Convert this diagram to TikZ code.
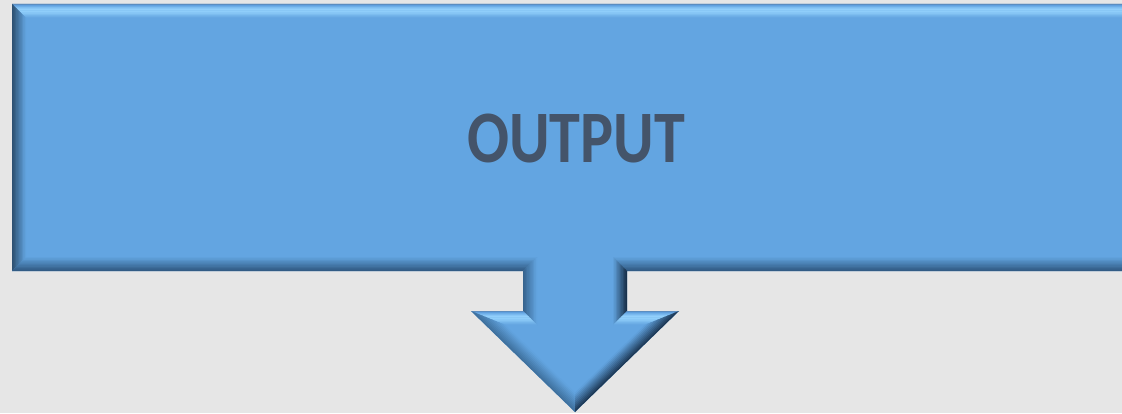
\documentclass[tikz,border=0pt]{standalone}
\usepackage{fontspec}
\setmainfont{Carlito}
\usetikzlibrary{calc}
\definecolor{bgc}{HTML}{E6E6E6}
\definecolor{fillc}{HTML}{63A5E1}
\definecolor{topline}{HTML}{5A7A9C}
\definecolor{topdark}{HTML}{5E9EE0}
\definecolor{toplight}{HTML}{95D2FD}
\definecolor{leftdark}{HTML}{2B4D6C}
\definecolor{bottomdark}{HTML}{2F5880}
\definecolor{stemleft}{HTML}{35618A}
\definecolor{stemright}{HTML}{152C44}
\definecolor{diagleft}{HTML}{3D6E9A}
\definecolor{diagright}{HTML}{1A3450}
\definecolor{txtc}{HTML}{44546A}
% bevel band: #1 P, #2 Q, #3 P', #4 Q', #5 t0, #6 t1, #7 colour A, #8 colour B
\newcommand\bvlband[8]{%
  \foreach \k in {0,...,9}{%
    \pgfmathsetmacro\ta{#5+(#6-#5)*\k/10}%
    \pgfmathsetmacro\tb{min(1,#5+(#6-#5)*(\k+1.3)/10)}%
    \pgfmathtruncatemacro\pc{100-100*(\k+0.5)/10}%
    \fill[#7!\pc!#8] ($(#1)!\ta!(#3)$) -- ($(#2)!\ta!(#4)$) -- ($(#2)!\tb!(#4)$) -- ($(#1)!\tb!(#3)$) -- cycle;
  }}
\newcommand\bvldark[5]{\bvlband{#1}{#2}{#3}{#4}{0}{1}{#5}{fillc}}
\newcommand\bvllight[4]{%
  \bvlband{#1}{#2}{#3}{#4}{0}{0.1}{topline}{topdark}%
  \bvlband{#1}{#2}{#3}{#4}{0.1}{0.35}{topdark}{toplight}%
  \bvlband{#1}{#2}{#3}{#4}{0.35}{0.55}{toplight}{toplight}%
  \bvlband{#1}{#2}{#3}{#4}{0.55}{1}{toplight}{fillc}}
\tikzset{labeltext/.style={text=txtc,font=\bfseries\fontsize{74}{80}\selectfont,transform shape,xscale=0.84,inner sep=0pt}}
\begin{document}
\begin{tikzpicture}[x=1pt,y=1pt]
\useasboundingbox (0,0) rectangle (1122,413);
\fill[bgc] (0,0) rectangle (1122,413);
\clip (0,0) rectangle (1122,413);
% outer outline
\coordinate (A) at (12,409);
\coordinate (B) at (1140,409);
\coordinate (C) at (1140,142);
\coordinate (D) at (627,142);
\coordinate (E) at (627,102);
\coordinate (F) at (679,102);
\coordinate (G) at (575,1);
\coordinate (H) at (471,102);
\coordinate (I) at (523,102);
\coordinate (J) at (523,142);
\coordinate (K) at (12,142);
% inner (bevel) outline
\coordinate (A1) at (26,395);
\coordinate (B1) at (1140,395);
\coordinate (C1) at (1140,156);
\coordinate (D1) at (613,156);
\coordinate (E1) at (613,88);
\coordinate (F1) at (644.5,88);
\coordinate (G1) at (575,20.4);
\coordinate (H1) at (505.5,88);
\coordinate (I1) at (537,88);
\coordinate (J1) at (537,156);
\coordinate (K1) at (26,156);
\fill[fillc] (A) -- (B) -- (C) -- (D) -- (E) -- (F) -- (G) -- (H) -- (I) -- (J) -- (K) -- cycle;
% bevel edges
\bvllight{A}{B}{A1}{B1}
\bvldark{K}{A}{K1}{A1}{leftdark}
\bvldark{K}{J}{K1}{J1}{bottomdark}
\bvldark{D}{C}{D1}{C1}{bottomdark}
\bvldark{J}{I}{J1}{I1}{stemleft}
\bvldark{E}{D}{E1}{D1}{stemright}
\bvllight{I}{H}{I1}{H1}
\bvllight{E}{F}{E1}{F1}
\bvldark{H}{G}{H1}{G1}{diagleft}
\bvldark{G}{F}{G1}{F1}{diagright}
\node[labeltext] (label) at (576,274) {OUTPUT};
\end{tikzpicture}
\end{document}
